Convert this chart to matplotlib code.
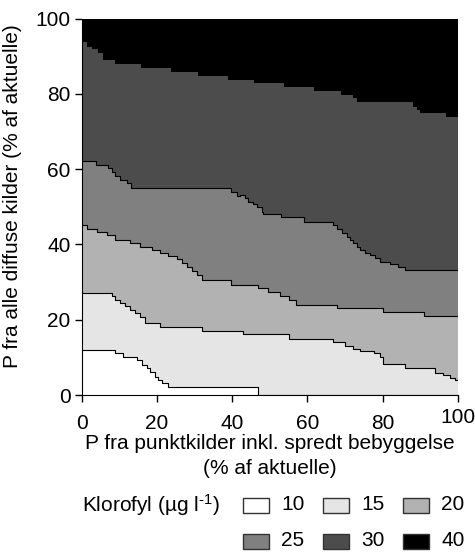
import numpy as np
import matplotlib
matplotlib.use('Agg')
import matplotlib.pyplot as plt
from matplotlib.patches import Rectangle
from matplotlib.transforms import ScaledTranslation

plt.rcParams['font.family'] = ['Liberation Sans', 'DejaVu Sans']
plt.rcParams['mathtext.fontset'] = 'custom'
plt.rcParams['mathtext.rm'] = 'Liberation Sans'
plt.rcParams['mathtext.default'] = 'regular'

# Grænser mellem klorofyl-niveauer (trappekurver, x = punktkilder, y = diffuse kilder)
x_30_40 = [0, 1.3, 2.7, 4.4, 5.7, 8.9, 15.8, 23.7, 30.8, 38.8, 45.9, 53.9, 61.9,
           69.0, 72.2, 73.1, 88.2, 89.1, 90.0, 96.9, 100]
y_30_40 = [93.8, 92.5, 91.8, 90.9, 89.0, 87.8, 86.8, 85.8, 84.8, 83.7, 82.8, 81.8,
           80.8, 79.8, 78.8, 77.8, 76.6, 75.7, 74.8, 73.9, 73.9]

x_25_30 = [0, 3.8, 7.1, 8.0, 8.9, 10.2, 12.0, 13.1, 39.7, 41.2, 42.1, 43.4, 44.3,
           45.6, 46.5, 47.9, 48.3, 53.0, 59.2, 66.9, 67.8, 69.1, 70.5, 71.4, 72.2,
           73.1, 74.0, 75.4, 76.7, 78.0, 79.4, 82.0, 84.2, 86.0, 100]
y_25_30 = [62.2, 61.1, 60.2, 59.3, 58.2, 57.1, 56.2, 55.1, 54.0, 52.9, 53.0, 52.2,
           51.3, 50.7, 50.0, 48.7, 48.1, 47.2, 46.0, 45.2, 44.0, 43.1, 42.0, 41.2,
           40.3, 39.4, 38.5, 37.8, 37.2, 36.3, 35.4, 34.7, 33.9, 33.1, 33.1]

x_20_25 = [0, 1.3, 4.0, 6.6, 8.9, 12.8, 15.5, 18.6, 20.8, 23.0, 25.3, 26.6, 27.9,
           29.2, 30.6, 31.9, 39.7, 47.0, 49.6, 52.7, 55.0, 57.0, 67.8, 80.0, 90.9, 100]
y_20_25 = [45.2, 44.0, 43.4, 42.5, 41.2, 40.3, 39.4, 38.5, 37.6, 36.9, 36.0, 35.0,
           33.9, 33.0, 31.9, 30.5, 29.2, 28.3, 27.4, 26.3, 25.2, 23.9, 23.0, 22.0,
           21.0, 21.0]

x_15_20 = [0, 8.0, 8.9, 10.2, 11.5, 12.8, 14.2, 15.5, 16.8, 20.8, 31.9, 43.0, 55.0,
           66.9, 70.0, 72.2, 74.0, 77.6, 79.4, 80.2, 86.0, 94.0, 96.2, 98.0, 99.3, 100]
y_15_20 = [27.0, 26.2, 25.2, 24.5, 23.6, 22.7, 21.9, 20.8, 19.0, 18.1, 17.1, 16.2,
           15.0, 14.0, 13.1, 12.2, 11.8, 11.1, 10.2, 8.2, 7.1, 5.9, 5.3, 4.4, 4.0, 4.0]

x_10_15 = [0, 8.9, 11.1, 14.6, 16.0, 17.3, 18.2, 19.5, 20.4, 21.3, 23.0, 47.0, 100]
y_10_15 = [12.0, 11.1, 10.0, 9.3, 8.0, 7.1, 6.2, 4.9, 4.0, 3.1, 2.0, 0.0, 0.0]

levels = ['10', '15', '20', '25', '30', '40']
colors = ['#ffffff', '#e5e5e5', '#b2b2b2', '#808080', '#4c4c4c', '#000000']

fig = plt.figure(figsize=(4.75, 5.53), dpi=100)
ax = fig.add_axes([0.172, 0.2857, 0.7917, 0.6808])

# baggrund = højeste niveau, derefter lag nedad
ax.fill_between([0, 100], 0, 100, color=colors[5], lw=0)
bounds = [(x_30_40, y_30_40), (x_25_30, y_25_30), (x_20_25, y_20_25),
          (x_15_20, y_15_20), (x_10_15, y_10_15)]
for i, (bx, by) in enumerate(bounds):
    ax.fill_between(bx, 0, by, step='post', color=colors[4 - i], lw=0)
for bx, by in bounds[1:]:
    ax.step(bx, by, where='post', color='black', lw=0.8)

ax.set_xlim(0, 100)
ax.set_ylim(0, 100)
ax.set_xticks(np.arange(0, 101, 20))
ax.set_yticks(np.arange(0, 101, 20))
ax.tick_params(labelsize=15, length=5, width=1, direction='out', pad=3)
ax.tick_params(axis='x', pad=9)
for s in ['top', 'right']:
    ax.spines[s].set_visible(False)

# "100" på x-aksen sidder lidt højere i originalen
lab = ax.xaxis.get_major_ticks()[-1].label1
lab.set_transform(lab.get_transform() + ScaledTranslation(0, 4.5 / 72, fig.dpi_scale_trans))

ax.set_xlabel('P fra punktkilder inkl. spredt bebyggelse\n(% af aktuelle)',
              fontsize=15, labelpad=0.5, linespacing=1.4)
ax.set_ylabel('P fra alle diffuse kilder (% af aktuelle)', fontsize=15)
ax.yaxis.set_label_coords(-0.160, 0.528)

# forklaring
W, H = 475.0, 553.0
fig.text(82 / W, 1 - 505 / H, r'Klorofyl (µg l$^{\text{-1}}$)', fontsize=15,
         va='center', ha='left')
px = [243, 323, 403]
rows = [505, 541]
for k, lvl in enumerate(levels):
    r, c = divmod(k, 3)
    fig.patches.append(Rectangle((px[c] / W, 1 - (rows[r] + 7.5) / H), 26 / W, 15 / H,
                                 transform=fig.transFigure, facecolor=colors[k],
                                 edgecolor='#333333', lw=1))
    fig.text((px[c] + 38) / W, 1 - rows[r] / H, lvl, fontsize=15, va='center', ha='left')

fig.savefig('out.png', dpi=100)
